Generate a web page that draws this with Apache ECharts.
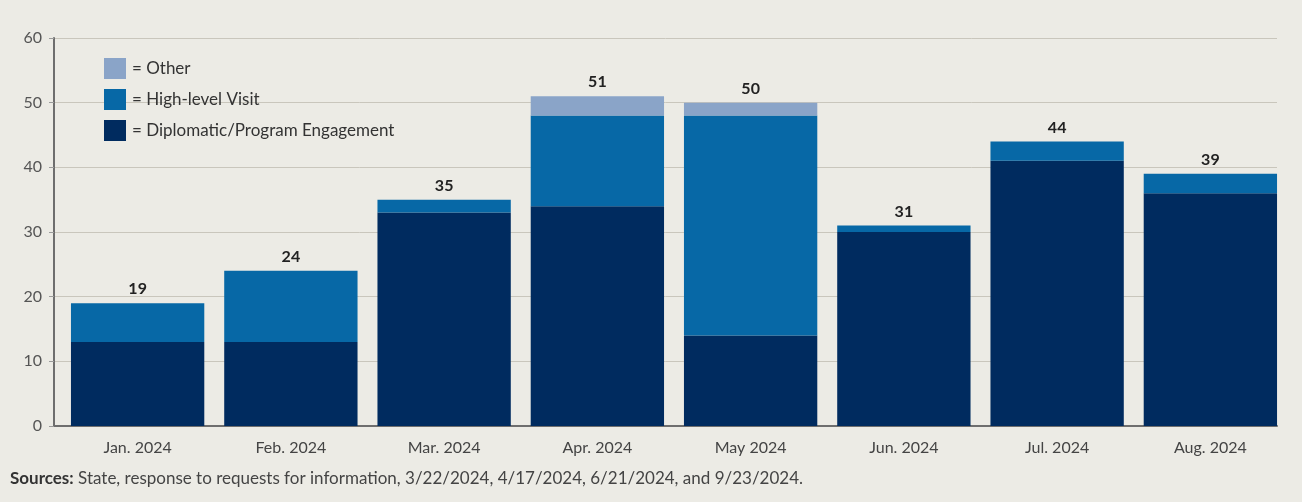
<!DOCTYPE html>
<html><head><meta charset="utf-8">
<script src="https://cdn.jsdelivr.net/npm/echarts@6/dist/echarts.min.js"></script>
<style>html,body{margin:0;padding:0;background:#ecebe5;}#c{width:1302px;height:502px;}</style>
</head><body><div id="c"></div>
<script>
const categories = ['Jan. 2024','Feb. 2024','Mar. 2024','Apr. 2024','May 2024','Jun. 2024','Jul. 2024','Aug. 2024'];
const diplomatic = [13, 13, 33, 34, 14, 30, 41, 36];
const highLevel = [6, 11, 2, 14, 34, 1, 3, 3];
const other = [0, 0, 0, 3, 2, 0, 0, 0];
const totals = [19, 24, 35, 51, 50, 31, 44, 39];
const yTicks = [0, 10, 20, 30, 40, 50, 60];

const FONT = 'Lato';
const yMin = yTicks[0], yMax = yTicks[yTicks.length-1];
const chart = echarts.init(document.getElementById('c'));
chart.setOption({
  backgroundColor: '#ecebe5',
  animation: false,
  textStyle: {fontFamily: FONT},
  grid: [
    {left: 61, right: 15, top: 38, bottom: 76},
    {left: 54, right: 25, top: 38, bottom: 76}
  ],
  legend: {
    data: ['Other', 'High-level Visit', 'Diplomatic/Program Engagement'],
    orient: 'vertical', left: 99, top: 53, itemGap: 10,
    itemWidth: 22, itemHeight: 21, icon: 'rect',
    formatter: n => '= ' + n,
    textStyle: {fontFamily: FONT, fontSize: 17, color: '#333', padding: [0,0,0,1]}
  },
  xAxis: [
    {type: 'category', data: categories, gridIndex: 0,
     axisLine: {show: false}, axisTick: {show: false},
     axisLabel: {fontFamily: FONT, fontSize: 16, color: '#444', margin: 14}},
    {type: 'category', data: categories, gridIndex: 1,
     axisLine: {lineStyle: {color: '#6e6e6e', width: 2}},
     axisTick: {show: false}, axisLabel: {show: false}}
  ],
  yAxis: [
    {type: 'value', gridIndex: 0, min: yMin, max: yMax, interval: 10,
     axisLine: {show: false}, axisTick: {show: false}, axisLabel: {show: false},
     splitLine: {show: false}},
    {type: 'value', gridIndex: 1, min: yMin, max: yMax, interval: 10,
     axisLine: {show: true, lineStyle: {color: '#6e6e6e', width: 2}},
     axisTick: {show: true, length: 5, lineStyle: {color: '#9a9a9a'}},
     axisLabel: {fontFamily: FONT, fontSize: 16, color: '#555', margin: 12},
     splitLine: {lineStyle: {color: '#c9c6bc', width: 1}}}
  ],
  series: [
    {name: 'Diplomatic/Program Engagement', type: 'bar', stack: 's', data: diplomatic,
     barCategoryGap: '13%', itemStyle: {color: '#002b5f'}},
    {name: 'High-level Visit', type: 'bar', stack: 's', data: highLevel,
     itemStyle: {color: '#0768a6'}},
    {name: 'Other', type: 'bar', stack: 's', data: other,
     itemStyle: {color: '#8aa4c8'}},
    {name: 'Total', type: 'bar', stack: 's', data: totals.map(() => 0),
     itemStyle: {color: 'transparent'},
     label: {show: true, position: 'top', distance: 6,
       formatter: p => totals[p.dataIndex],
       fontFamily: FONT, fontSize: 16, fontWeight: 'bold', color: '#222'}}
  ],
  graphic: [{
    type: 'text', left: 10, top: 470,
    style: {
      text: '{b|Sources:} State, response to requests for information, 3/22/2024, 4/17/2024, 6/21/2024, and 9/23/2024.',
      rich: {b: {fontFamily: FONT, fontSize: 17, fontWeight: 'bold', fill: '#333'}},
      font: '17px ' + FONT, fill: '#444'
    }
  }]
});
</script></body></html>
